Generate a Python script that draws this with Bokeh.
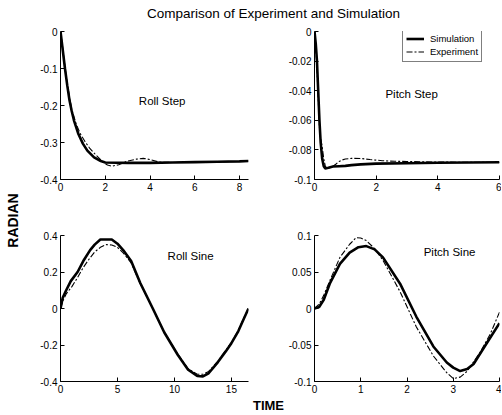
import math
from bokeh.plotting import figure
from bokeh.models import Range1d, FixedTicker, Label, Legend, LegendItem
from bokeh.layouts import row, column
from bokeh.embed import file_html
from bokeh.resources import INLINE

FONT = "Liberation Sans"

# ---------------- data ----------------
# Roll Step
rs_t_sim = [0, 0.1, 0.2, 0.3, 0.4, 0.5, 0.6, 0.8, 1.0, 1.2, 1.5, 1.8, 2.0, 3.0, 4.0, 5.0, 6.0, 7.0, 8.0, 8.4]
rs_sim = [0, -0.05, -0.1, -0.145, -0.185, -0.215, -0.24, -0.277, -0.303, -0.322, -0.34, -0.35, -0.354,
          -0.355, -0.355, -0.354, -0.353, -0.352, -0.351, -0.350]
rs_t_exp = [0, 0.1, 0.2, 0.3, 0.5, 0.7, 0.9, 1.1, 1.3, 1.6, 1.9, 2.1, 2.3, 2.6, 3.0, 3.4, 3.7, 4.0, 4.4,
            5.0, 6.0, 7.0, 8.0, 8.4]
rs_exp = [0, -0.045, -0.095, -0.14, -0.21, -0.25, -0.278, -0.298, -0.315, -0.335, -0.353, -0.361, -0.364,
          -0.36, -0.35, -0.345, -0.343, -0.346, -0.353, -0.354, -0.353, -0.352, -0.351, -0.350]

# Pitch Step
ps_t_sim = [0, 0.04, 0.08, 0.12, 0.16, 0.2, 0.25, 0.3, 0.35, 0.45, 0.6, 0.8, 1.0, 1.2, 1.5, 2.0, 3.0,
            4.0, 5.0, 6.0]
ps_sim = [0, -0.008, -0.02, -0.04, -0.06, -0.075, -0.086, -0.091, -0.0925, -0.092, -0.0912, -0.091,
          -0.0908, -0.0903, -0.0898, -0.0893, -0.089, -0.0887, -0.0885, -0.0883]
ps_t_exp = [0, 0.04, 0.08, 0.12, 0.16, 0.2, 0.25, 0.3, 0.35, 0.4, 0.5, 0.6, 0.7, 0.8, 0.9, 1.0, 1.2,
            1.5, 1.8, 2.2, 2.6, 3.0, 3.5, 4.0, 5.0, 6.0]
ps_exp = [0, -0.01, -0.025, -0.045, -0.065, -0.072, -0.078, -0.086, -0.091, -0.0925, -0.092, -0.091,
          -0.0895, -0.0878, -0.0868, -0.0862, -0.0857, -0.0858, -0.0865, -0.0873, -0.0877, -0.0878,
          -0.088, -0.0882, -0.0884, -0.0885]

# Roll Sine
rsn_t_sim = [0, 0.2, 0.5, 0.9, 1.5, 2.0, 2.6, 3.0, 3.5, 4.5, 5.0, 5.5, 6.2, 7.0, 8.1, 9.1, 10.3, 11.2,
             12.0, 12.5, 13.0, 13.8, 14.5, 15.0, 15.6, 16.1, 16.5]
rsn_sim = [0, 0.06, 0.1, 0.15, 0.2, 0.26, 0.32, 0.35, 0.378, 0.378, 0.355, 0.32, 0.26, 0.14, 0.0, -0.13,
           -0.255, -0.335, -0.37, -0.372, -0.355, -0.295, -0.235, -0.19, -0.125, -0.055, 0.0]
rsn_t_exp = [0, 0.2, 0.5, 1.0, 1.5, 2.0, 2.5, 3.0, 3.5, 4.0, 4.5, 5.0, 5.5, 6.2, 7.0, 8.1, 9.1, 10.3,
             11.2, 12.0, 12.5, 13.0, 13.8, 14.5, 15.0, 15.6, 16.1, 16.5]
rsn_exp = [0, 0.04, 0.08, 0.12, 0.17, 0.225, 0.27, 0.31, 0.335, 0.35, 0.348, 0.335, 0.305, 0.25, 0.135,
           0.0, -0.13, -0.25, -0.33, -0.36, -0.36, -0.345, -0.29, -0.23, -0.185, -0.12, -0.05, 0.0]

# Pitch Sine
psn_t_sim = [0, 0.1, 0.2, 0.33, 0.55, 0.76, 0.95, 1.12, 1.3, 1.48, 1.85, 2.2, 2.57, 2.86, 3.0, 3.15,
             3.3, 3.44, 3.73, 4.0]
psn_sim = [0, 0.002, 0.012, 0.034, 0.061, 0.0765, 0.084, 0.0855, 0.081, 0.07, 0.034, -0.011, -0.052,
           -0.074, -0.081, -0.0857, -0.083, -0.076, -0.047, -0.02]
psn_t_exp = [0, 0.1, 0.2, 0.33, 0.55, 0.76, 0.9, 1.0, 1.12, 1.3, 1.48, 1.85, 2.2, 2.57, 2.86, 3.0, 3.15,
             3.3, 3.58, 3.8, 4.0]
psn_exp = [0, 0.006, 0.018, 0.038, 0.07, 0.088, 0.097, 0.0965, 0.093, 0.082, 0.066, 0.023, -0.025,
           -0.065, -0.088, -0.096, -0.094, -0.086, -0.06, -0.035, -0.005]

# ticks
rs_xticks = [0, 2, 4, 6, 8]
rs_xlabels = ["0", "2", "4", "6", "8"]
rs_yticks = [-0.4, -0.3, -0.2, -0.1, 0]
rs_ylabels = ["-0.4", "-0.3", "-0.2", "-0.1", "0"]
ps_xticks = [0, 2, 4, 6]
ps_xlabels = ["0", "2", "4", "6"]
ps_yticks = [-0.1, -0.08, -0.06, -0.04, -0.02, 0]
ps_ylabels = ["-0.1", "-0.08", "-0.06", "-0.04", "-0.02", "0"]
rsn_xticks = [0, 5, 10, 15]
rsn_xlabels = ["0", "5", "10", "15"]
rsn_yticks = [-0.4, -0.2, 0, 0.2, 0.4]
rsn_ylabels = ["-0.4", "-0.2", "0", "0.2", "0.4"]
psn_xticks = [0, 1, 2, 3, 4]
psn_xlabels = ["0", "1", "2", "3", "4"]
psn_yticks = [-0.1, -0.05, 0, 0.05, 0.1]
psn_ylabels = ["-0.1", "-0.05", "0", "0.05", "0.1"]

title_text = "Comparison of Experiment and Simulation"
ylabel_text = "RADIAN"
xlabel_text = "TIME"
legend_labels = ["Simulation", "Experiment"]
panel_titles = ["Roll Step", "Pitch Step", "Roll Sine", "Pitch Sine"]


def text_fig(w, h):
    p = figure(width=w, height=h, x_range=Range1d(0, w), y_range=Range1d(0, h),
               toolbar_location=None, output_backend="svg", x_axis_location=None,
               y_axis_location=None, min_border=0, title=None)
    p.outline_line_color = None
    p.xgrid.visible = False
    p.ygrid.visible = False
    return p


def panel(w, h, mbl, mbr, mbt, mbb, xr, yr, xt, xl, yt, yl):
    p = figure(width=w, height=h, x_range=Range1d(*xr), y_range=Range1d(*yr),
               toolbar_location=None, output_backend="svg", title=None,
               min_border_left=mbl, min_border_right=mbr, min_border_top=mbt, min_border_bottom=mbb)
    p.outline_line_color = None
    p.xgrid.visible = False
    p.ygrid.visible = False
    p.xaxis.ticker = FixedTicker(ticks=xt)
    p.xaxis.major_label_overrides = {float(k): v for k, v in zip(xt, xl)}
    p.yaxis.ticker = FixedTicker(ticks=yt)
    p.yaxis.major_label_overrides = {float(k): v for k, v in zip(yt, yl)}
    for ax in (p.xaxis[0], p.yaxis[0]):
        ax.axis_line_color = "black"
        ax.axis_line_width = 1
        ax.major_tick_in = 4
        ax.major_tick_out = 0
        ax.major_tick_line_color = "black"
        ax.minor_tick_line_color = None
        ax.major_label_text_font = FONT
        ax.major_label_text_font_size = "10px"
        ax.major_label_text_color = "black"
        ax.major_label_standoff = 3
    return p


def add_curves(p, ts, ys, te, ye):
    r1 = p.line(ts, ys, line_color="black", line_width=2.6)
    r2 = p.line(te, ye, line_color="black", line_width=1.1, line_dash="6 2 2 2")
    return r1, r2


def add_tag(p, x, y, txt):
    p.add_layout(Label(x=x, y=y, text=txt, text_font=FONT, text_font_size="11.5px",
                       text_align="left", text_baseline="middle", text_color="black"))


# ---------------- panels ----------------
tl = panel(248, 180, 38, 22, 5, 27, (0, 8.4), (-0.4, 0), rs_xticks, rs_xlabels, rs_yticks, rs_ylabels)
add_curves(tl, rs_t_sim, rs_sim, rs_t_exp, rs_exp)
add_tag(tl, 3.5, -0.188, panel_titles[0])

tr = panel(231, 180, 44, 2, 5, 27, (0, 6), (-0.1, 0), ps_xticks, ps_xlabels, ps_yticks, ps_ylabels)
s_r, e_r = add_curves(tr, ps_t_sim, ps_sim, ps_t_exp, ps_exp)
add_tag(tr, 2.3, -0.042, panel_titles[1])
leg = Legend(items=[LegendItem(label=legend_labels[0], renderers=[s_r]),
                    LegendItem(label=legend_labels[1], renderers=[e_r])],
             location=(88, 117))
leg.label_text_font = FONT
leg.label_text_font_size = "9.5px"
leg.label_text_color = "black"
leg.glyph_width = 18
leg.glyph_height = 13
leg.label_height = 13
leg.label_standoff = 6
leg.padding = 3
leg.spacing = 0
leg.margin = 0
leg.border_line_color = "black"
leg.border_line_width = 1
leg.background_fill_color = "white"
leg.background_fill_alpha = 1.0
tr.add_layout(leg, "center")

bl = panel(248, 190, 38, 22, 29, 15, (0, 16.5), (-0.4, 0.4), rsn_xticks, rsn_xlabels, rsn_yticks, rsn_ylabels)
add_curves(bl, rsn_t_sim, rsn_sim, rsn_t_exp, rsn_exp)
add_tag(bl, 9.4, 0.29, panel_titles[2])

br = panel(231, 190, 44, 2, 29, 15, (0, 4), (-0.1, 0.1), psn_xticks, psn_xlabels, psn_yticks, psn_ylabels)
add_curves(br, psn_t_sim, psn_sim, psn_t_exp, psn_exp)
add_tag(br, 2.36, 0.077, panel_titles[3])

# ---------------- overall texts ----------------
title_fig = text_fig(501, 26)
title_fig.add_layout(Label(x=273, y=13, text=title_text, text_font=FONT, text_font_size="13.5px",
                           text_align="center", text_baseline="middle", text_color="black"))

rad_fig = text_fig(22, 370)
rad_fig.add_layout(Label(x=12.5, y=176, text=ylabel_text, text_font=FONT, text_font_size="14px",
                         text_font_style="bold", angle=math.pi / 2, text_align="center",
                         text_baseline="middle", text_color="black"))

time_fig = text_fig(501, 18)
time_fig.add_layout(Label(x=268, y=9, text=xlabel_text, text_font=FONT, text_font_size="13px",
                          text_font_style="bold", text_align="center", text_baseline="middle",
                          text_color="black"))

grid = column(row(tl, tr), row(bl, br))
layout = column(title_fig, row(rad_fig, grid), time_fig)

open("out.html", "w").write(file_html(layout, INLINE))
